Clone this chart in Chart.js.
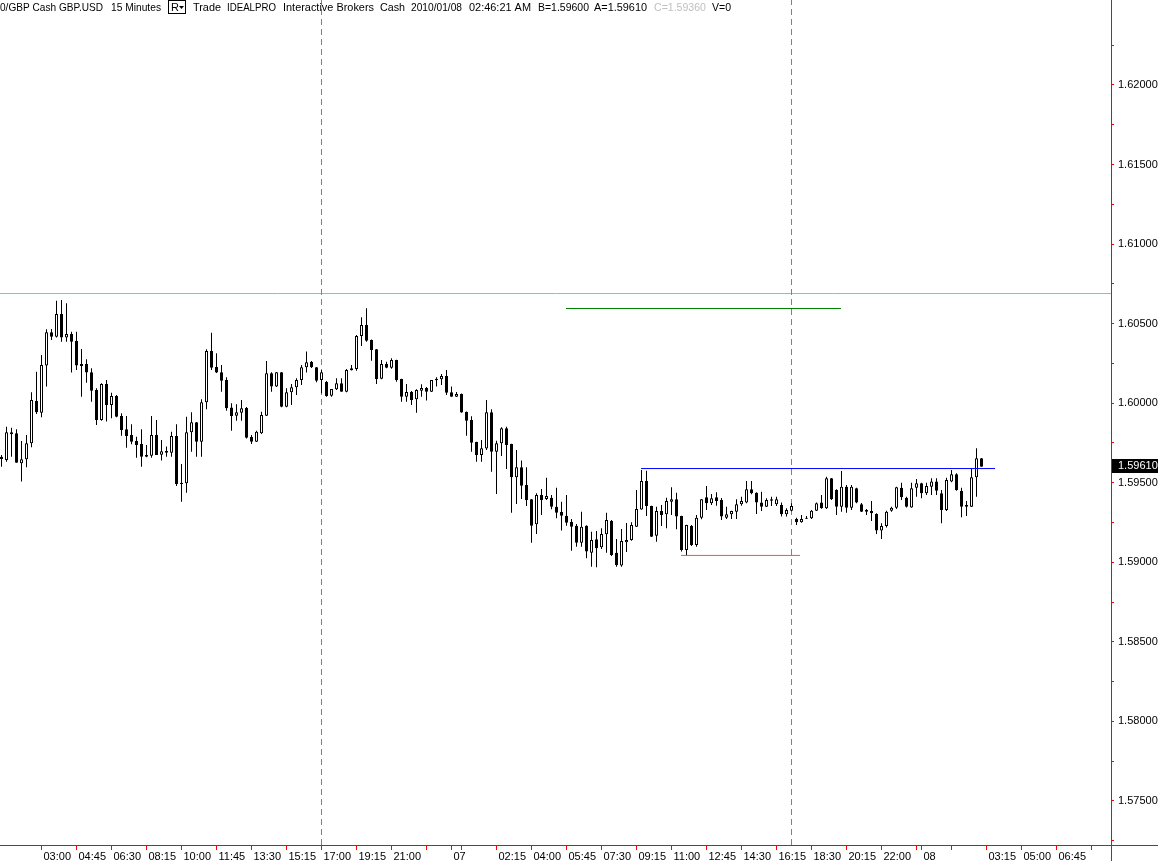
<!DOCTYPE html>
<html><head><meta charset="utf-8">
<script src="https://cdn.jsdelivr.net/npm/chart.js@4.4.1/dist/chart.umd.min.js"></script>
<style>html,body{margin:0;padding:0;background:#fff;overflow:hidden}canvas{display:block}</style>
</head><body>
<canvas id="c" width="1158" height="861"></canvas>
<script>
// ---- OHLC data, 15-minute bars, GBP.USD ----
const opens = [1.59664,1.59643,1.59817,1.59811,1.59622,1.59647,1.59748,1.60014,1.59940,1.60236,
1.60446,1.60418,1.60561,1.60412,1.60435,1.60391,1.60246,1.60246,1.60194,1.60083,
1.59894,1.60121,1.59989,1.60045,1.59919,1.59836,1.59800,1.59762,1.59743,1.59674,
1.59670,1.59800,1.59676,1.59700,1.59689,1.59794,1.59500,1.59497,1.59817,1.59880,
1.59758,1.60006,1.60328,1.60227,1.60194,1.60146,1.59972,1.59921,1.59940,1.59970,
1.59788,1.59758,1.59811,1.59921,1.60188,1.60104,1.60194,1.59978,1.60068,1.60100,
1.60146,1.60226,1.60261,1.60226,1.60146,1.60133,1.60047,1.60087,1.60125,1.60072,
1.60207,1.60215,1.60422,1.60491,1.60397,1.60339,1.60154,1.60246,1.60223,1.60271,
1.60152,1.60041,1.60070,1.60024,1.60078,1.60095,1.60072,1.60144,1.60150,1.60171,
1.60068,1.60041,1.60058,1.59945,1.59894,1.59756,1.59674,1.59715,1.59943,1.59695,
1.59748,1.59842,1.59743,1.59534,1.59597,1.59486,1.59396,1.59239,1.59423,1.59398,
1.59406,1.59349,1.59316,1.59293,1.59253,1.59230,1.59123,1.59230,1.59060,1.59145,
1.59094,1.59176,1.59260,1.59060,1.58979,1.59126,1.59140,1.59224,1.59332,1.59511,
1.59354,1.59167,1.59322,1.59302,1.59381,1.59396,1.59291,1.59077,1.59228,1.59109,
1.59280,1.59409,1.59371,1.59409,1.59391,1.59280,1.59302,1.59318,1.59365,1.59375,
1.59459,1.59437,1.59375,1.59349,1.59396,1.59365,1.59360,1.59302,1.59324,1.59272,
1.59251,1.59274,1.59276,1.59324,1.59375,1.59339,1.59528,1.59454,1.59349,1.59475,
1.59343,1.59465,1.59365,1.59329,1.59322,1.59304,1.59199,1.59228,1.59324,1.59343,
1.59469,1.59406,1.59345,1.59469,1.59497,1.59434,1.59475,1.59507,1.59434,1.59329,
1.59507,1.59553,1.59448,1.59349,1.59349,1.59534,1.59654];
const highs = [1.59674,1.59852,1.59846,1.59836,1.59762,1.59800,1.60068,1.60198,1.60303,1.60464,
1.60466,1.60644,1.60649,1.60628,1.60449,1.60449,1.60341,1.60276,1.60219,1.60094,
1.60125,1.60146,1.60066,1.60051,1.59936,1.59919,1.59867,1.59789,1.59836,1.59737,
1.59919,1.59894,1.59769,1.59727,1.59821,1.59867,1.59618,1.59915,1.59943,1.59882,
1.60024,1.60339,1.60443,1.60314,1.60240,1.60163,1.59999,1.59993,1.60020,1.59976,
1.59800,1.59827,1.59946,1.60265,1.60194,1.60196,1.60196,1.60094,1.60121,1.60156,
1.60240,1.60324,1.60265,1.60227,1.60209,1.60140,1.60089,1.60156,1.60156,1.60215,
1.60240,1.60429,1.60540,1.60596,1.60400,1.60341,1.60271,1.60261,1.60282,1.60273,
1.60154,1.60121,1.60077,1.60087,1.60119,1.60102,1.60146,1.60163,1.60183,1.60209,
1.60104,1.60070,1.60060,1.59947,1.59918,1.59758,1.59769,1.60020,1.59962,1.59764,
1.59848,1.59852,1.59745,1.59706,1.59639,1.59597,1.59398,1.59434,1.59461,1.59532,
1.59423,1.59469,1.59381,1.59423,1.59272,1.59241,1.59318,1.59232,1.59192,1.59197,
1.59214,1.59312,1.59266,1.59146,1.59209,1.59247,1.59251,1.59454,1.59580,1.59576,
1.59356,1.59349,1.59360,1.59406,1.59471,1.59437,1.59293,1.59236,1.59234,1.59297,
1.59398,1.59480,1.59429,1.59440,1.59404,1.59349,1.59324,1.59396,1.59412,1.59511,
1.59511,1.59440,1.59444,1.59402,1.59412,1.59412,1.59375,1.59339,1.59371,1.59280,
1.59297,1.59291,1.59329,1.59375,1.59423,1.59538,1.59530,1.59459,1.59574,1.59486,
1.59486,1.59469,1.59373,1.59335,1.59385,1.59308,1.59245,1.59324,1.59349,1.59475,
1.59500,1.59412,1.59500,1.59523,1.59500,1.59500,1.59528,1.59528,1.59454,1.59532,
1.59580,1.59559,1.59469,1.59385,1.59591,1.59716,1.59656];
const lows = [1.59601,1.59632,1.59664,1.59626,1.59507,1.59597,1.59723,1.59932,1.59911,1.60104,
1.60397,1.60412,1.60386,1.60386,1.60192,1.60209,1.60041,1.60129,1.60009,1.59863,
1.59890,1.59884,1.59905,1.59911,1.59796,1.59720,1.59742,1.59657,1.59601,1.59660,
1.59657,1.59674,1.59639,1.59664,1.59664,1.59480,1.59381,1.59437,1.59695,1.59664,
1.59664,1.59962,1.60209,1.60190,1.60072,1.59953,1.59827,1.59890,1.59890,1.59778,
1.59743,1.59756,1.59806,1.59919,1.60072,1.60102,1.59974,1.59974,1.59989,1.60051,
1.60114,1.60192,1.60221,1.60131,1.60062,1.60041,1.60041,1.60083,1.60072,1.60068,
1.60205,1.60204,1.60359,1.60386,1.60267,1.60121,1.60150,1.60219,1.60217,1.60135,
1.60009,1.60009,1.59989,1.59940,1.60041,1.60016,1.60070,1.60104,1.60114,1.60051,
1.60041,1.60039,1.59939,1.59796,1.59695,1.59632,1.59632,1.59706,1.59569,1.59429,
1.59668,1.59586,1.59312,1.59366,1.59398,1.59354,1.59123,1.59178,1.59297,1.59391,
1.59333,1.59277,1.59199,1.59230,1.59073,1.59098,1.59098,1.59025,1.58972,1.58969,
1.59084,1.59060,1.59040,1.58972,1.58972,1.59065,1.59136,1.59222,1.59330,1.59291,
1.59159,1.59129,1.59228,1.59214,1.59297,1.59207,1.59067,1.59041,1.59102,1.59098,
1.59270,1.59329,1.59360,1.59356,1.59266,1.59272,1.59272,1.59272,1.59356,1.59371,
1.59427,1.59304,1.59322,1.59347,1.59354,1.59354,1.59287,1.59287,1.59320,1.59234,
1.59249,1.59272,1.59272,1.59322,1.59336,1.59335,1.59391,1.59297,1.59318,1.59312,
1.59329,1.59371,1.59316,1.59297,1.59260,1.59178,1.59146,1.59219,1.59318,1.59335,
1.59391,1.59345,1.59343,1.59412,1.59402,1.59423,1.59423,1.59423,1.59245,1.59322,
1.59503,1.59450,1.59283,1.59291,1.59347,1.59412,1.59600];
const closes = [1.59649,1.59817,1.59804,1.59626,1.59647,1.59748,1.60020,1.59943,1.60240,1.60446,
1.60418,1.60561,1.60412,1.60435,1.60386,1.60236,1.60234,1.60192,1.60078,1.59894,
1.60121,1.59989,1.60045,1.59915,1.59831,1.59794,1.59758,1.59737,1.59664,1.59663,
1.59800,1.59674,1.59698,1.59689,1.59794,1.59492,1.59492,1.59817,1.59880,1.59758,
1.60006,1.60328,1.60223,1.60192,1.60141,1.59968,1.59919,1.59943,1.59968,1.59783,
1.59758,1.59821,1.59926,1.60188,1.60104,1.60194,1.59978,1.60068,1.60100,1.60146,
1.60226,1.60257,1.60226,1.60141,1.60194,1.60045,1.60089,1.60125,1.60072,1.60209,
1.60219,1.60422,1.60491,1.60393,1.60334,1.60152,1.60246,1.60223,1.60271,1.60146,
1.60041,1.60070,1.60020,1.60083,1.60095,1.60072,1.60146,1.60154,1.60171,1.60066,
1.60041,1.60058,1.59941,1.59890,1.59752,1.59674,1.59716,1.59943,1.59695,1.59748,
1.59842,1.59737,1.59534,1.59597,1.59481,1.59391,1.59230,1.59423,1.59391,1.59417,
1.59349,1.59312,1.59293,1.59249,1.59224,1.59123,1.59224,1.59067,1.59140,1.59088,
1.59178,1.59266,1.59046,1.58983,1.59134,1.59140,1.59234,1.59335,1.59511,1.59354,
1.59161,1.59322,1.59297,1.59385,1.59396,1.59287,1.59077,1.59234,1.59109,1.59280,
1.59396,1.59371,1.59402,1.59385,1.59287,1.59302,1.59322,1.59365,1.59385,1.59459,
1.59434,1.59375,1.59349,1.59391,1.59387,1.59396,1.59302,1.59329,1.59354,1.59251,
1.59272,1.59280,1.59324,1.59371,1.59339,1.59528,1.59396,1.59349,1.59475,1.59343,
1.59475,1.59375,1.59318,1.59318,1.59308,1.59199,1.59228,1.59318,1.59343,1.59471,
1.59409,1.59349,1.59465,1.59497,1.59434,1.59480,1.59507,1.59450,1.59329,1.59517,
1.59553,1.59454,1.59349,1.59360,1.59534,1.59654,1.59600];

// ---- axis ticks ----
const tickIdx  = [8,15,22,29,36,43,50,57,64,71,78,85,90,92,99,106,113,120,127,134,141,148,155,162,169,176,183,184,190,197,204,211,218];
const tickText = ['03:00','04:45','06:30','08:15','10:00','11:45','13:30','15:15','17:00','19:15','21:00','','07','','02:15','04:00','05:45','07:30','09:15','11:00','12:45','14:30','16:15','18:30','20:15','22:00','','08','','03:15','05:00','06:45',''];
const yMajor = [1.575,1.580,1.585,1.590,1.595,1.600,1.605,1.610,1.615,1.620];
const yMinor = [1.5725,1.5775,1.5825,1.5875,1.5925,1.5975,1.6025,1.6075,1.6125,1.6175,1.6225];

// ---- drawn reference lines (bar index / price) ----
const sessionBreaks = [64, 158];
const hLineStart = [-0.3, 112.9, 127.9, 135.9];
const hLineEnd   = [221.9, 167.9, 198.7, 159.7];
const hLinePrice = [1.60689, 1.60595, 1.59589, 1.59043];
const lastPrice = 1.59610;

const xMin = -0.3, xMax = 221.9, yMin = 1.57223, yMax = 1.62534;
const FONT = "'Liberation Sans', Arial, sans-serif";
const RED = '#ff0000';

const idx = opens.map((_, i) => i);
const bodyData = idx.map(i => ({x: i, y: [opens[i], closes[i]]}));
const wickData = idx.map(i => ({x: i, y: [lows[i], highs[i]]}));
const bodyFill = idx.map(i => closes[i] >= opens[i] ? '#ffffff' : '#000000');

const hColors = ['#40e0d0', '#008000', '#0000ff', '#e8602c'];
const datasets = [
  {type:'bar', data: bodyData, barThickness:3, backgroundColor: bodyFill, borderColor:'#000', borderWidth:1,
   borderSkipped:false, grouped:false, inflateAmount:0, order:1},
  {type:'bar', data: wickData, barThickness:1, backgroundColor:'#000', borderWidth:0,
   grouped:false, inflateAmount:0, order:2}
];
sessionBreaks.forEach(b => datasets.push({type:'line', data:[{x:b,y:yMin},{x:b,y:yMax}], borderColor:'#808080',
  borderWidth:1, borderDash:[6,4], pointRadius:0, fill:false, tension:0, order:3}));
hLinePrice.forEach((p, k) => datasets.push({type:'line', data:[{x:hLineStart[k],y:p},{x:hLineEnd[k],y:p}],
  borderColor:hColors[k], borderWidth:1, pointRadius:0, fill:false, tension:0, order: k === 0 ? 3 : 0}));

const decor = {
  id:'decor',
  afterDraw(chart) {
    const ctx = chart.ctx, a = chart.chartArea, ys = chart.scales.y;
    ctx.save();
    // axis line extensions
    ctx.strokeStyle = RED; ctx.lineWidth = 1;
    ctx.beginPath(); ctx.moveTo(a.right + 0.5, 0); ctx.lineTo(a.right + 0.5, chart.height); ctx.stroke();
    ctx.beginPath(); ctx.moveTo(0, a.bottom + 0.5); ctx.lineTo(chart.width, a.bottom + 0.5); ctx.stroke();
    // header
    ctx.font = '11px ' + FONT; ctx.textBaseline = 'middle'; ctx.fillStyle = '#000';
    const hy = 7.5;
    const toks = [['0/GBP Cash GBP.USD',0,103],['15 Minutes',111,50],['Trade',193,28],['IDEALPRO',227,49],
      ['Interactive Brokers',283,91],['Cash',380,25],['2010/01/08',411,51],['02:46:21 AM',469,62],
      ['B=1.59600',538,51],['A=1.59610',594,53],['C=1.59360',654,52,'#c0c0c0'],['V=0',712,19]];
    toks.forEach(t => { ctx.fillStyle = t[3] || '#000'; ctx.fillText(t[0], t[1], hy, t[2]); });
    ctx.fillStyle = '#000'; ctx.strokeStyle = '#000';
    ctx.strokeRect(168.5, 0.5, 17, 13);
    ctx.fillText('R', 171, hy);
    ctx.beginPath(); ctx.moveTo(179, 6); ctx.lineTo(184, 6); ctx.lineTo(181.5, 9); ctx.closePath(); ctx.fill();
    // last price box
    const py = ys.getPixelForValue(lastPrice) + 1;
    ctx.fillStyle = '#000'; ctx.fillRect(a.right + 1, Math.round(py - 7), chart.width - a.right - 1, 14);
    ctx.fillStyle = '#fff'; ctx.fillText(lastPrice.toFixed(5), a.right + 7, py);
    ctx.restore();
  }
};

new Chart(document.getElementById('c'), {
  type:'bar',
  data:{datasets},
  options:{
    responsive:false, animation:false, events:[], devicePixelRatio:1,
    layout:{padding:0},
    plugins:{legend:{display:false}, tooltip:{enabled:false}},
    scales:{
      x:{type:'linear', position:'bottom', min:xMin, max:xMax, offset:false,
        grid:{display:true, drawOnChartArea:false, drawTicks:true, tickLength:5, tickColor:RED, offset:false},
        border:{display:true, color:RED, width:1},
        afterBuildTicks: s => { s.ticks = tickIdx.map(v => ({value:v})); },
        afterFit: s => { s.height = 16; s.paddingLeft = 0; s.paddingRight = 0; s.paddingTop = 0; s.paddingBottom = 0; },
        ticks:{autoSkip:false, maxRotation:0, minRotation:0, align:'start', labelOffset:2, padding:0,
          color:'#000', font:{family:FONT, size:11},
          callback: v => { const k = tickIdx.indexOf(v); return k >= 0 ? tickText[k] : ''; }}
      },
      y:{type:'linear', position:'right', min:yMin, max:yMax,
        grid:{display:true, drawOnChartArea:false, drawTicks:true, tickLength:3, tickColor:RED},
        border:{display:true, color:RED, width:1},
        afterBuildTicks: s => { s.ticks = yMajor.concat(yMinor).sort((p,q)=>p-q).map(v => ({value:v})); },
        afterFit: s => { s.width = 47; s.paddingLeft = 0; s.paddingRight = 0; s.paddingTop = 0; s.paddingBottom = 0; },
        ticks:{padding:4, color:'#000', font:{family:FONT, size:11},
          callback: v => yMajor.some(m => Math.abs(m - v) < 1e-6) ? v.toFixed(5) : ''}
      }
    }
  },
  plugins:[decor]
});
</script>
</body></html>
